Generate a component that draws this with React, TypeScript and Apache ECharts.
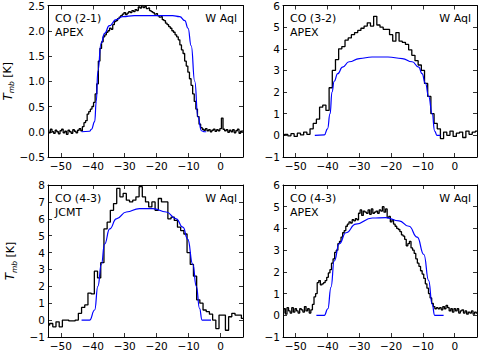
import React, { useEffect, useRef } from "react";
import * as echarts from "echarts";

// ---- Data ----
const xTicks = [-50, -40, -30, -20, -10, 0];
const velStart = -54;
const fineStep = 0.5;
const coarseStep = 1;

// Panel 1: CO (2-1) APEX observed (0.5 km/s channels from -54)
const obs21Apex = [
  0.02, -0.02, 0.05, 0.0, -0.03, 0.03, 0.0, -0.04, 0.02, 0.05,
  -0.02, 0.01, -0.05, 0.03, 0.0, -0.03, 0.04, 0.01, -0.02, 0.03,
  0.06, 0.02, 0.1, 0.18, 0.22, 0.35, 0.4, 0.45, 0.5, 0.58,
  0.75, 0.95, 1.4, 1.65, 1.78, 1.88, 1.92, 1.97, 2.0, 2.05,
  2.03, 2.12, 2.18, 2.2, 2.24, 2.27, 2.3, 2.33, 2.36, 2.32,
  2.35, 2.38, 2.36, 2.4, 2.38, 2.42, 2.4, 2.47, 2.45, 2.5,
  2.46, 2.48, 2.44, 2.45, 2.4, 2.38, 2.36, 2.33, 2.34, 2.3,
  2.27, 2.28, 2.22, 2.2, 2.15, 2.12, 2.08, 2.05, 2.0, 1.97,
  1.92, 1.88, 1.82, 1.72, 1.62, 1.55, 1.4, 1.3, 1.18, 1.05,
  0.92, 0.75, 0.6, 0.45, 0.3, 0.15, 0.08, 0.05, 0.03, 0.06,
  0.02, 0.04, 0.0, 0.03, 0.05, 0.01, 0.04, 0.02, 0.06, 0.27,
  0.05, 0.02, 0.04, -0.01, 0.03, 0.0, 0.04, -0.02, 0.02, 0.05,
  -0.03, 0.01, 0.02,
];
const model21V = [-43.5, -41, -40.4, -39.4, -38.9, -38.4, -37.4, -36.3, -34.8, -32.7, -30.6, -27, -20, -15, -12.8, -11.2, -10.2, -9.2, -8.1, -7.1, -6, -5, -4.5];
const model21T = [0, 0.01, 0.05, 0.2, 0.6, 1.2, 1.75, 1.95, 2.1, 2.22, 2.28, 2.3, 2.3, 2.3, 2.28, 2.2, 2.05, 1.7, 1.0, 0.3, 0.02, 0, 0];

// Panel 2: CO (3-2) APEX observed (1 km/s channels from -54)
const obs32Apex = [
  0.0, 0.05, -0.02, 0.08, -0.05, 0.1, 0.02, 0.15, 0.05, 0.3,
  0.55, 0.75, 1.3, 1.4, 1.15, 2.2, 3.0, 3.5, 4.0, 4.1,
  4.4, 4.5, 4.65, 4.75, 4.85, 4.95, 5.05, 5.2, 5.05, 5.5,
  5.1, 5.0, 4.9, 4.9, 4.65, 4.35, 4.75, 4.35, 4.3, 4.2,
  3.95, 3.7, 3.45, 3.25, 3.0, 2.4, 1.8, 1.0, 0.55, 0.3,
  -0.15, 0.15, 0.0, 0.2, -0.05, 0.1, 0.15, -0.1, 0.2, 0.05,
  0.15, 0.2,
];
const model32V = [-44, -41, -40, -39.2, -38.6, -37.9, -36.8, -35.3, -33.2, -30, -26, -21, -16.5, -13.4, -11.3, -10.3, -9.2, -8.2, -7.1, -6.3, -5.6, -4.5];
const model32T = [0, 0.02, 0.3, 1.0, 2.0, 2.5, 2.85, 3.15, 3.4, 3.55, 3.62, 3.62, 3.55, 3.4, 3.15, 2.85, 2.4, 1.8, 1.0, 0.2, 0, 0];

// Panel 3: CO (4-3) JCMT observed (1 km/s channels from -54)
const obs43Jcmt = [
  -0.3, -0.2, -0.4, -0.1, -0.4, 0.0, 0.0, -0.05, -0.05, 0.0,
  0.4, 0.75, 0.9, 1.6, 1.55, 2.9, 2.5, 3.4, 5.4, 5.8,
  6.5, 6.9, 7.8, 7.3, 7.5, 7.1, 7.0, 7.1, 7.3, 7.9,
  7.3, 7.0, 6.7, 7.0, 6.5, 7.2, 7.0, 7.0, 6.0, 6.1,
  5.9, 5.5, 5.3, 5.1, 4.0, 3.3, 2.6, 1.2, 1.0, 0.6,
  0.5, 0.35, 0.0, -0.5, 0.3, 0.3, -0.6, 0.2, 0.4, 0.3,
  0.3, 0.1,
];
const model43JV = [-43.5, -41, -39.4, -38.4, -37.3, -36.3, -34.7, -32.6, -29.5, -25.4, -21.2, -17, -13.9, -11.8, -10.3, -8.7, -7.6, -6.6, -5.8, -3];
const model43JT = [0, 0, 0.6, 2.0, 3.3, 4.5, 5.4, 6.0, 6.4, 6.6, 6.6, 6.4, 6.0, 5.5, 4.8, 3.3, 2.0, 0.7, 0, 0];

// Panel 4: CO (4-3) APEX observed (0.5 km/s channels from -54)
const obs43Apex = [
  0.1, 0.3, 0.05, 0.35, 0.2, 0.1, 0.35, 0.15, 0.3, 0.2,
  0.1, 0.3, 0.25, 0.15, 0.4, 0.2, 0.3, 0.1, 0.25, 0.5,
  0.85, 1.0, 1.5, 1.6, 1.4, 1.45, 1.5, 1.6, 1.75, 1.95,
  2.1, 2.4, 2.6, 2.9, 3.0, 3.3, 3.4, 3.6, 3.8, 3.9,
  4.1, 4.2, 4.3, 4.25, 4.4, 4.35, 4.45, 4.4, 4.7, 4.85,
  4.6, 4.8, 4.75, 4.7, 4.85, 4.65, 4.9, 4.7, 4.75, 4.8,
  4.7, 4.85, 4.8, 5.0, 4.75, 4.9, 4.5, 4.55, 4.3, 4.4,
  4.2, 4.1, 4.0, 3.95, 3.85, 3.7, 3.65, 3.5, 3.2, 3.3,
  3.4, 3.1, 3.0, 2.85, 2.6, 2.4, 2.25, 2.05, 1.9, 1.7,
  1.45, 1.25, 1.0, 0.8, 0.55, 0.4, 0.3, 0.35, 0.3, 0.35,
  0.25, 0.4, 0.3, 0.45, 0.35, 0.2, 0.3, 0.15, 0.3, 0.2,
  0.3, 0.1, 0.2, 0.25, 0.1, 0.2, 0.05, 0.15, 0.1, 0.2,
  0.05, 0.15, 0.1,
];
const model43AV = [-43.5, -41, -39.9, -38.9, -37.9, -36.3, -34.2, -31.1, -25.9, -21.7, -17.5, -14.4, -11.8, -9.7, -8.2, -7.1, -6.3, -3.5];
const model43AT = [0, 0, 0.3, 1.3, 2.5, 3.3, 3.8, 4.2, 4.48, 4.5, 4.35, 4.1, 3.6, 2.8, 1.6, 0.5, 0, 0];

const lineNames = ["CO (2-1)\nAPEX", "CO (3-2)\nAPEX", "CO (4-3)\nJCMT", "CO (4-3)\nAPEX"];
const starName = "W Aql";
const yMins = [-0.5, -1, -1, -1];
const yMaxs = [2.5, 6, 8, 6];
const yIntervals = [0.5, 1, 1, 1];

// ---- Layout ----
const W = 479;
const H = 353;
const grids = [
  { left: 48, top: 5, width: 195, height: 152 },
  { left: 283, top: 5, width: 194, height: 152 },
  { left: 48, top: 185, width: 195, height: 152 },
  { left: 283, top: 185, width: 194, height: 152 },
];

const FONT = "DejaVu Sans";

function toChannels(v0: number, dv: number, arr: number[]) {
  return arr.map((t, i) => [v0 + i * dv, t]);
}
function toPairs(v: number[], t: number[]) {
  return v.map((x, i) => [x, t[i]]);
}
function minusFmt(s: string) {
  return s.replace("-", "\u2212");
}

export default function App() {
  const ref = useRef<HTMLDivElement>(null);
  useEffect(() => {
    document.body.style.margin = "0";
    if (!ref.current) return;
    const chart = echarts.init(ref.current, undefined, { renderer: "svg" });

    const observed = [
      toChannels(velStart, fineStep, obs21Apex),
      toChannels(velStart, coarseStep, obs32Apex),
      toChannels(velStart, coarseStep, obs43Jcmt),
      toChannels(velStart, fineStep, obs43Apex),
    ];
    const models = [
      toPairs(model21V, model21T),
      toPairs(model32V, model32T),
      toPairs(model43JV, model43JT),
      toPairs(model43AV, model43AT),
    ];

    const axisLine = { show: true, onZero: false, lineStyle: { color: "#000", width: 1 } };
    const tick = { show: true, inside: true, length: 4, lineStyle: { color: "#000", width: 0.8 } };

    const xAxes: any[] = [];
    const yAxes: any[] = [];
    const series: any[] = [];
    const graphics: any[] = [];

    grids.forEach((g, i) => {
      const common = { type: "value", gridIndex: i, min: -54, max: 7, splitLine: { show: false }, axisLine };
      xAxes.push({
        ...common,
        position: "bottom",
        axisTick: { ...tick, customValues: xTicks },
        axisLabel: {
          customValues: xTicks,
          fontSize: 10.5,
          fontFamily: FONT,
          color: "#000",
          margin: 3,
          formatter: (v: number) => minusFmt(String(v)),
        },
      });
      xAxes.push({
        ...common,
        position: "top",
        axisTick: { ...tick, customValues: xTicks },
        axisLabel: { show: false },
      });
      const ycommon = {
        type: "value",
        gridIndex: i,
        min: yMins[i],
        max: yMaxs[i],
        interval: yIntervals[i],
        splitLine: { show: false },
        axisLine,
        axisTick: tick,
      };
      const isLeftCol = i % 2 === 0;
      yAxes.push({
        ...ycommon,
        position: "left",
        axisLabel: {
          fontSize: 10.5,
          fontFamily: FONT,
          color: "#000",
          margin: 3,
          formatter: (v: number) =>
            minusFmt(i === 0 ? v.toFixed(1) : String(Math.round(v))),
        },
        name: isLeftCol ? "{t|T}{s|mb} [K]" : "",
        nameLocation: "middle",
        nameRotate: 90,
        nameGap: 30,
        nameTextStyle: {
          fontSize: 11,
          fontFamily: FONT,
          color: "#000",
          rich: {
            t: { fontSize: 12, fontStyle: "italic", fontFamily: FONT, color: "#000", lineHeight: 16, verticalAlign: "middle" },
            s: { fontSize: 7.5, fontStyle: "italic", fontFamily: FONT, color: "#000", lineHeight: 16, verticalAlign: "bottom" },
          },
        },
      });
      yAxes.push({
        ...ycommon,
        position: "right",
        axisLabel: { show: false },
      });

      series.push({
        type: "line",
        xAxisIndex: 2 * i,
        yAxisIndex: 2 * i,
        data: observed[i],
        step: "middle",
        symbol: "none",
        lineStyle: { color: "#000", width: 1.3 },
        z: 2,
      });
      series.push({
        type: "line",
        xAxisIndex: 2 * i,
        yAxisIndex: 2 * i,
        data: models[i],
        smooth: true,
        smoothMonotone: "x",
        symbol: "none",
        lineStyle: { color: "#0000ff", width: 1.2 },
        z: 3,
      });

      graphics.push({
        type: "text",
        left: g.left + 7,
        top: g.top + 6,
        style: { text: lineNames[i], font: `11px ${FONT}`, fill: "#000", lineHeight: 14 },
      });
      graphics.push({
        type: "text",
        right: W - (g.left + g.width) + 6,
        top: g.top + 6,
        style: { text: starName, font: `11px ${FONT}`, fill: "#000", lineHeight: 14 },
      });
    });

    chart.setOption({
      animation: false,
      backgroundColor: "#fff",
      grid: grids.map((g) => ({ ...g, containLabel: false })),
      xAxis: xAxes,
      yAxis: yAxes,
      series,
      graphic: graphics,
    });
    return () => chart.dispose();
  }, []);
  return (
    <div
      ref={ref}
      style={{ position: "fixed", left: 0, top: 0, width: W, height: H }}
    />
  );
}
